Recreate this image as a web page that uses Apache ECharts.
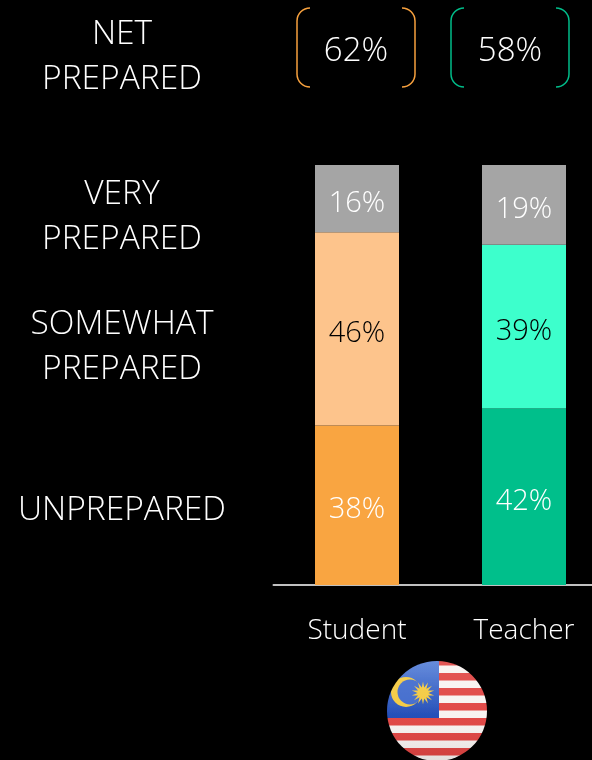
<!DOCTYPE html>
<html>
<head>
<meta charset="utf-8">
<style>html,body{margin:0;padding:0;background:#000}#main{width:592px;height:760px}</style>
<script src="https://cdn.jsdelivr.net/npm/echarts@6/dist/echarts.min.js"></script>
</head>
<body>
<div id="main"></div>
<script>
const categories = ["Student", "Teacher"];
const unprepared = [38, 42];
const somewhat_prepared = [46, 39];
const very_prepared = [16, 19];
const net_prepared = ["62%", "58%"];

const font = "'Open Sans'";
const side_labels = [
  {text: "NET\nPREPARED", y: 57},
  {text: "VERY\nPREPARED", y: 217},
  {text: "SOMEWHAT\nPREPARED", y: 347},
  {text: "UNPREPARED", y: 510}
];

// flag is only decoration so it goes in as an svg image
function flagImage(){
  let stripes = "";
  for(let y = 658; y < 765; y += 15){
    stripes += `<rect x="380" y="${y}" width="115" height="7.5" fill="#e0433f"/>`;
  }
  let star = "";
  for(let i = 0; i < 28; i++){
    const rad = i % 2 ? 5.5 : 11.5;
    const a = i / 28 * 2 * Math.PI;
    star += `${(423 + rad * Math.sin(a)).toFixed(1)},${(693 - rad * Math.cos(a)).toFixed(1)} `;
  }
  const svg = `<svg xmlns="http://www.w3.org/2000/svg" width="102" height="102" viewBox="386 660 102 102">
  <defs>
    <clipPath id="c"><circle cx="437" cy="711" r="50"/></clipPath>
    <filter id="s"><feGaussianBlur stdDeviation="0.6"/></filter>
    <linearGradient id="b" x1="0" y1="0" x2="0" y2="1"><stop offset="0" stop-color="#5a84dc"/><stop offset="1" stop-color="#1a46b4"/></linearGradient>
    <linearGradient id="g" x1="0" y1="0" x2="0" y2="1"><stop offset="0" stop-color="#fff" stop-opacity=".12"/><stop offset=".55" stop-color="#fff" stop-opacity=".04"/><stop offset="1" stop-color="#000" stop-opacity=".1"/></linearGradient>
  </defs>
  <g clip-path="url(#c)">
    <g filter="url(#s)">
      <rect x="380" y="655" width="115" height="110" fill="#f8f3f1"/>
      ${stripes}
      <rect x="380" y="655" width="59" height="63" fill="url(#b)"/>
      <circle cx="406" cy="692" r="15" fill="#f4c93c"/>
      <circle cx="410" cy="692" r="12.5" fill="#3d68cc"/>
      <polygon fill="#f4c93c" points="${star}"/>
    </g>
    <rect x="380" y="655" width="115" height="110" fill="url(#g)"/>
  </g>
  </svg>`;
  return "data:image/svg+xml;charset=utf-8," + encodeURIComponent(svg);
}

// rounded bracket pair round a net figure
function bracket(x, w, color, value){
  const r = 13, top = 8, bottom = 87;
  const style = {fill: null, stroke: color, lineWidth: 1.5};
  const arc = (cx, cy, a0, a1) => ({type: "arc", shape: {cx, cy, r, startAngle: a0, endAngle: a1, clockwise: true}, style});
  const side = (sx) => ({type: "line", shape: {x1: sx, y1: top + r, x2: sx, y2: bottom - r}, style});
  const P = Math.PI;
  return [
    side(x), side(x + w),
    arc(x + r, top + r, P, 1.5 * P),
    arc(x + r, bottom - r, 0.5 * P, P),
    arc(x + w - r, top + r, 1.5 * P, 2 * P),
    arc(x + w - r, bottom - r, 0, 0.5 * P),
    {type: "text", x: x + w / 2, y: 52, style: {text: value, fill: "#fff", font: `300 33px ${font}`, textAlign: "center", textVerticalAlign: "middle"}}
  ];
}

function stackSeries(name, data, colors, label_colors){
  return {
    type: "bar", name, stack: "all", barWidth: 84, animation: false,
    data: data.map((v, i) => ({
      value: v,
      itemStyle: {color: colors[i]},
      label: {color: label_colors[i]}
    })),
    label: {show: true, position: "inside", offset: [0, 5], formatter: "{c}%", fontFamily: font, fontWeight: 300, fontSize: 29}
  };
}

const chart = echarts.init(document.getElementById("main"), null, {renderer: "canvas"});
chart.setOption({
  backgroundColor: "#000",
  animation: false,
  grid: {left: 273.5, top: 165, width: 334, height: 420, outerBoundsMode: "none"},
  xAxis: {
    type: "category", data: categories,
    axisLine: {lineStyle: {color: "#c0c0c0", width: 2}},
    axisTick: {show: false},
    axisLabel: {color: "#fff", fontFamily: font, fontWeight: 300, fontSize: 28, margin: 32}
  },
  yAxis: {type: "value", min: 0, max: 100, show: false, splitLine: {show: false}},
  series: [
    stackSeries("Unprepared", unprepared, ["#f9a541", "#00bf8b"], ["#fff", "#fff"]),
    stackSeries("Somewhat prepared", somewhat_prepared, ["#fdc48c", "#3dffcc"], ["#000", "#000"]),
    stackSeries("Very prepared", very_prepared, ["#a5a5a5", "#a5a5a5"], ["#fff", "#fff"])
  ],
  graphic: [
    ...side_labels.map((l) => ({
      type: "text", x: 122, y: l.y,
      style: {text: l.text, fill: "#fff", font: `300 33.5px ${font}`, lineHeight: 45, textAlign: "center", textVerticalAlign: "middle"}
    })),
    ...bracket(297, 118, "#f7a13e", net_prepared[0]),
    ...bracket(451, 118, "#00bd8a", net_prepared[1]),
    {type: "image", x: 386, y: 660, style: {image: flagImage(), width: 102, height: 102}}
  ]
});
</script>
</body>
</html>
